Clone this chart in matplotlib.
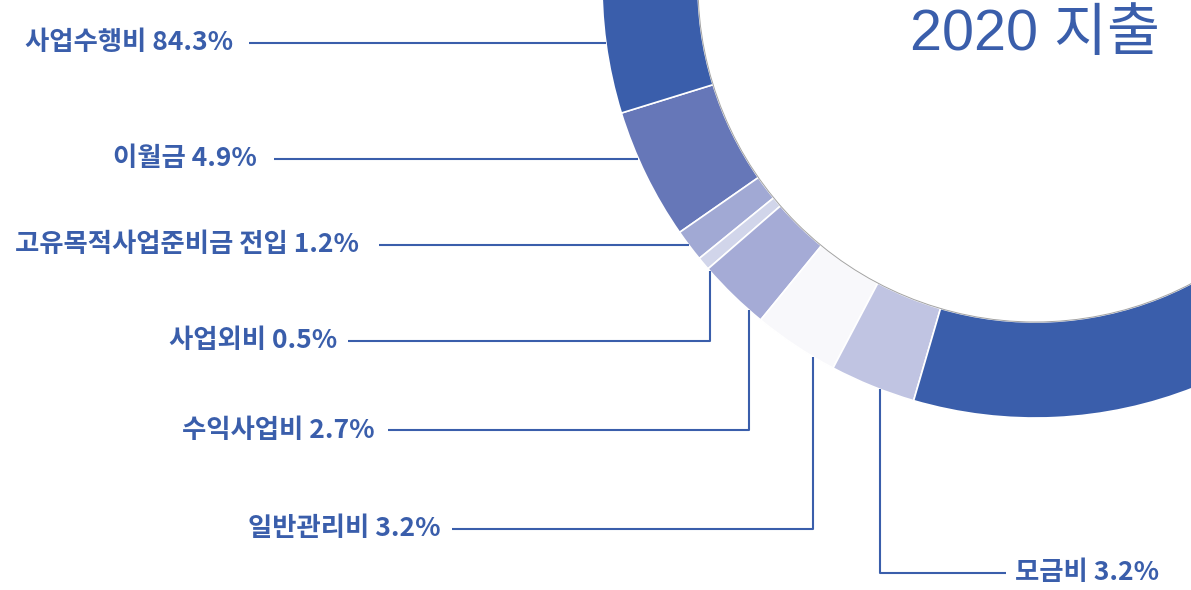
import matplotlib.pyplot as plt
from matplotlib.patches import Circle
import numpy as np

# 2020 expenditure shares (%), listed counter-clockwise from the upper left
names = ['이월금', '고유목적사업준비금 전입', '사업외비', '수익사업비', '일반관리비', '모금비', '사업수행비']
shares = [4.9, 1.2, 0.5, 2.7, 3.2, 3.2, 84.3]
colors = ['#6677b8', '#a1a9d4', '#d1d5ea', '#a5abd6', '#f8f8fb', '#c0c4e2', '#3a5eab']
title = '2020 지출'

BLUE = '#3a5eab'
plt.rcParams['font.family'] = ['Noto Sans CJK KR', 'DejaVu Sans']

fig = plt.figure(figsize=(11.91, 5.90), dpi=100)
ax = fig.add_axes([0, 0, 1, 1])

# donut sits off-canvas to the upper right; y is -pixel row
cx, cy = 1035, 15
r_out, ring = 433, 96
ax.pie(shares, colors=colors, startangle=197.2, counterclock=True,
       center=(cx, cy), radius=r_out, frame=True,
       wedgeprops=dict(width=ring, edgecolor='white', linewidth=1.2))
ax.add_patch(Circle((cx, cy), r_out - ring, fill=False, edgecolor='#8c8c8c',
                    linewidth=0.7, alpha=0.8))

ax.set_xlim(0, 1191)
ax.set_ylim(-590, 0)
ax.set_aspect('equal')
ax.axis('off')


def rim_x(y):
    return cx - np.sqrt(r_out ** 2 - (y - cy) ** 2)


def rim_y(x):
    return cy - np.sqrt(r_out ** 2 - (x - cx) ** 2)


lab_kw = dict(fontsize=19, fontweight='bold', color=BLUE, va='center')
line_kw = dict(color=BLUE, linewidth=1.5, solid_capstyle='butt')

# (index, text right edge, row, line start, elbow x or None)
callouts = [
    (6, 233, 43, 249, None),
    (0, 257, 159, 274, None),
    (1, 359, 245, 379, None),
    (2, 337, 341, 348, 710),
    (3, 375, 430, 388, 749),
    (4, 441, 529, 452, 813),
]
for i, tx, row, lx, elbow in callouts:
    y = -row
    ax.text(tx, y, f'{names[i]} {shares[i]}%', ha='right', **lab_kw)
    if elbow is None:
        ax.plot([lx, rim_x(y)], [y, y], **line_kw)
    else:
        ax.plot([lx, elbow, elbow], [y, y, rim_y(elbow)], **line_kw)

# 모금비 hangs below the ring with its label to the right
y = -573
ax.plot([1006, 880, 880], [y, y, rim_y(880)], **line_kw)
ax.text(1015, y, f'{names[5]} {shares[5]}%', ha='left', **lab_kw)

ax.text(1160, -35, title, ha='right', va='center', fontsize=41.5, color=BLUE,
        family=['Liberation Sans', 'Noto Sans CJK KR'])

fig.savefig('out.png', dpi=100)
